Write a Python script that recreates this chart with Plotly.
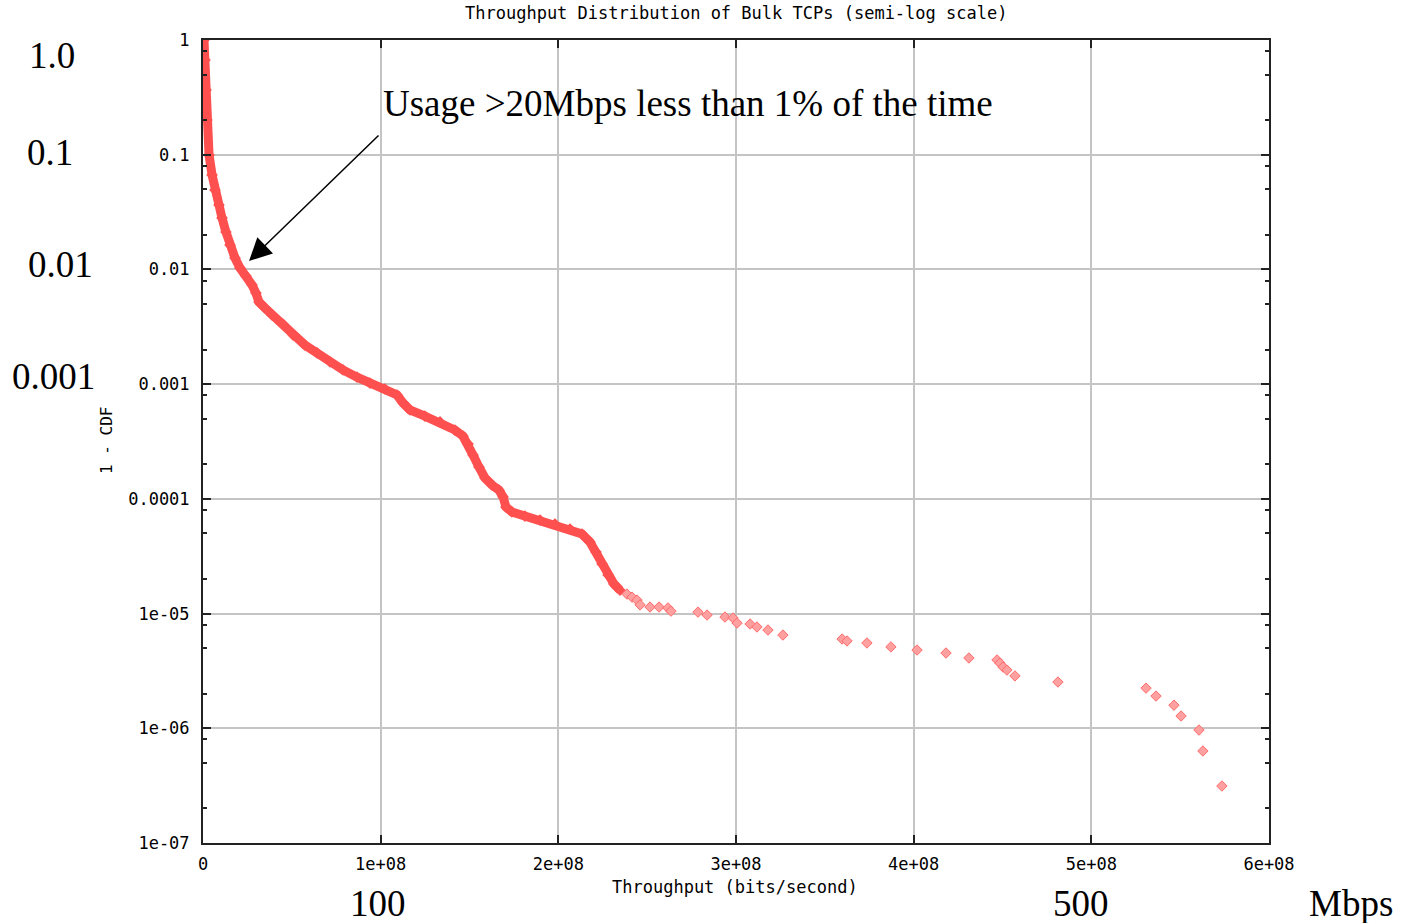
import plotly.graph_objects as go

# ---- Data (throughput in Mbps, 1-CDF) ----
dense_mbps = [0.56, 1.1, 1.7, 2.25, 3.4, 5.1, 6.75, 9.0, 10.7, 12.9, 15.2, 18.0, 20.8,
              24.2, 27.6, 29.8, 31.5, 34.9, 38.8, 45.0, 50.7, 57.4, 64.2, 71.5, 78.8,
              86.7, 94.0, 102.4, 109.2, 112.6, 116.5, 124.9, 133.4, 141.8, 146.3,
              149.2, 152.0, 155.3, 158.7, 162.7, 166.6, 168.9, 170.5, 173.9, 181.2,
              189.7, 198.1, 206.6, 213.3, 217.8, 221.2, 224.6, 228.0, 231.3, 234.7]
dense_ccdf = [1.0, 0.67, 0.367, 0.201, 0.0994, 0.0666, 0.0492, 0.0364, 0.0281, 0.0212,
              0.0163, 0.0126, 0.0103, 0.00877, 0.00732, 0.00622, 0.0052, 0.00461,
              0.00401, 0.00334, 0.00268, 0.00219, 0.00187, 0.00156, 0.00133, 0.00115,
              0.00102, 0.000907, 0.000804, 0.000685, 0.000595, 0.000527, 0.000468,
              0.000398, 0.000353, 0.000301, 0.000241, 0.000190, 0.000152, 0.000132,
              0.000119, 0.000104, 8.49e-5, 7.68e-5, 7.08e-5, 6.54e-5, 6.04e-5, 5.46e-5,
              4.94e-5, 4.21e-5, 3.44e-5, 2.71e-5, 2.17e-5, 1.81e-5, 1.60e-5]

tail_mbps = [238.6, 241.5, 244.3, 246.0, 251.6, 256.7, 261.7, 263.4, 278.6, 283.7,
             293.8, 298.3, 300.6, 307.9, 311.8, 318.0, 326.4, 359.7, 362.5, 373.7,
             387.2, 401.9, 418.2, 431.1, 446.9, 448.6, 450.3, 452.5, 457.0, 481.2,
             530.8, 536.4, 546.5, 550.5, 560.6, 562.8, 573.5]
tail_ccdf = [1.48e-5, 1.39e-5, 1.31e-5, 1.19e-5, 1.14e-5, 1.14e-5, 1.12e-5, 1.05e-5,
             1.03e-5, 9.71e-6, 9.33e-6, 9.15e-6, 8.27e-6, 8.11e-6, 7.64e-6, 7.19e-6,
             6.50e-6, 6.00e-6, 5.77e-6, 5.54e-6, 5.12e-6, 4.81e-6, 4.53e-6, 4.10e-6,
             3.94e-6, 3.70e-6, 3.42e-6, 3.22e-6, 2.86e-6, 2.53e-6, 2.24e-6, 1.91e-6,
             1.59e-6, 1.28e-6, 9.66e-7, 6.34e-7, 3.14e-7]

x_tickvals = [0, 1e8, 2e8, 3e8, 4e8, 5e8, 6e8]
x_ticktext = ["0", "1e+08", "2e+08", "3e+08", "4e+08", "5e+08", "6e+08"]
y_tickvals = [1, 0.1, 0.01, 0.001, 0.0001, 1e-5, 1e-6, 1e-7]
y_ticktext = ["1", "0.1", "0.01", "0.001", "0.0001", "1e-05", "1e-06", "1e-07"]
y_minor = [m * 10 ** k for k in range(-7, 0) for m in (8, 5, 2)]

big_labels = ["1.0", "0.1", "0.01", "0.001"]
mbps_labels = ["100", "500", "Mbps"]

MONO = "DejaVu Sans Mono"
SERIF = "Liberation Serif"
RED = "#ff5050"
MONO_SIZE = 17
SERIF_SIZE = 37

fig = go.Figure()
fig.add_trace(go.Scatter(
    x=[v * 1e6 for v in dense_mbps], y=dense_ccdf, mode="lines+markers",
    line=dict(color=RED, width=9),
    marker=dict(symbol="diamond", size=9, color=RED),
    showlegend=False, hoverinfo="skip"))
fig.add_trace(go.Scatter(
    x=[v * 1e6 for v in tail_mbps], y=tail_ccdf, mode="markers",
    marker=dict(symbol="diamond", size=8, color="#ffa0a0",
                line=dict(color="#ff6a6a", width=1)),
    showlegend=False, hoverinfo="skip"))

axis_common = dict(showline=True, linecolor="#222", linewidth=2, mirror="ticks",
                   ticks="inside", ticklen=8, tickwidth=1.5, tickcolor="#222",
                   showgrid=True, gridcolor="#c4c4c4", gridwidth=2, zeroline=False,
                   tickfont=dict(family=MONO, size=MONO_SIZE, color="black"))

fig.update_xaxes(range=[0, 6e8], tickmode="array", tickvals=x_tickvals,
                 ticktext=x_ticktext, ticklabelstandoff=5, **axis_common)
fig.update_yaxes(type="log", range=[-7, 0], tickmode="array", tickvals=y_tickvals,
                 ticktext=y_ticktext, ticklabelstandoff=8,
                 minor=dict(tickmode="array", tickvals=y_minor, ticks="inside",
                            ticklen=4, tickwidth=1.5, tickcolor="#222", showgrid=False),
                 **axis_common)


def px2paper_x(px):
    return (px - 203) / 1066.0


def px2paper_y(py):
    return (843 - py) / 803.0


def text_ann(text, px, py, family, size, xanchor="center", angle=0):
    return dict(text=text, x=px2paper_x(px), y=px2paper_y(py), xref="paper",
                yref="paper", xanchor=xanchor, yanchor="middle", showarrow=False,
                textangle=angle, font=dict(family=family, size=size, color="black"))


anns = []
anns.append(text_ann("Throughput Distribution of Bulk TCPs (semi-log scale)",
                     736, 13, MONO, MONO_SIZE))
anns.append(text_ann("Throughput (bits/second)", 735, 887, MONO, MONO_SIZE))
anns.append(text_ann("1 - CDF", 106, 441, MONO, MONO_SIZE - 1, angle=-90))

big_pos = [(52, 56), (50, 152), (60, 264), (53, 376)]
for t, (px, py) in zip(big_labels, big_pos):
    anns.append(text_ann(t, px, py, SERIF, SERIF_SIZE))
mb_pos = [(378, 903), (1081, 903), (1351, 903)]
for t, (px, py) in zip(mbps_labels, mb_pos):
    anns.append(text_ann(t, px, py, SERIF, SERIF_SIZE))

anns.append(text_ann("Usage &gt;20Mbps less than 1% of the time", 381, 104, SERIF,
                     SERIF_SIZE, xanchor="left"))
# arrow pointing at the 1% point
anns.append(dict(text="", x=2.59e7, y=-1.927, xref="x", yref="y",
                 ax=131, ay=-127, showarrow=True, arrowhead=2, arrowsize=3,
                 arrowwidth=1.5, arrowcolor="black"))

fig.update_layout(width=1401, height=923,
                  margin=dict(l=203, r=132, t=40, b=80),
                  paper_bgcolor="white", plot_bgcolor="white",
                  annotations=anns)

fig.write_html("out.html", config={"displayModeBar": False},
               post_script="document.body.style.margin='0';document.body.style.overflow='hidden';")
